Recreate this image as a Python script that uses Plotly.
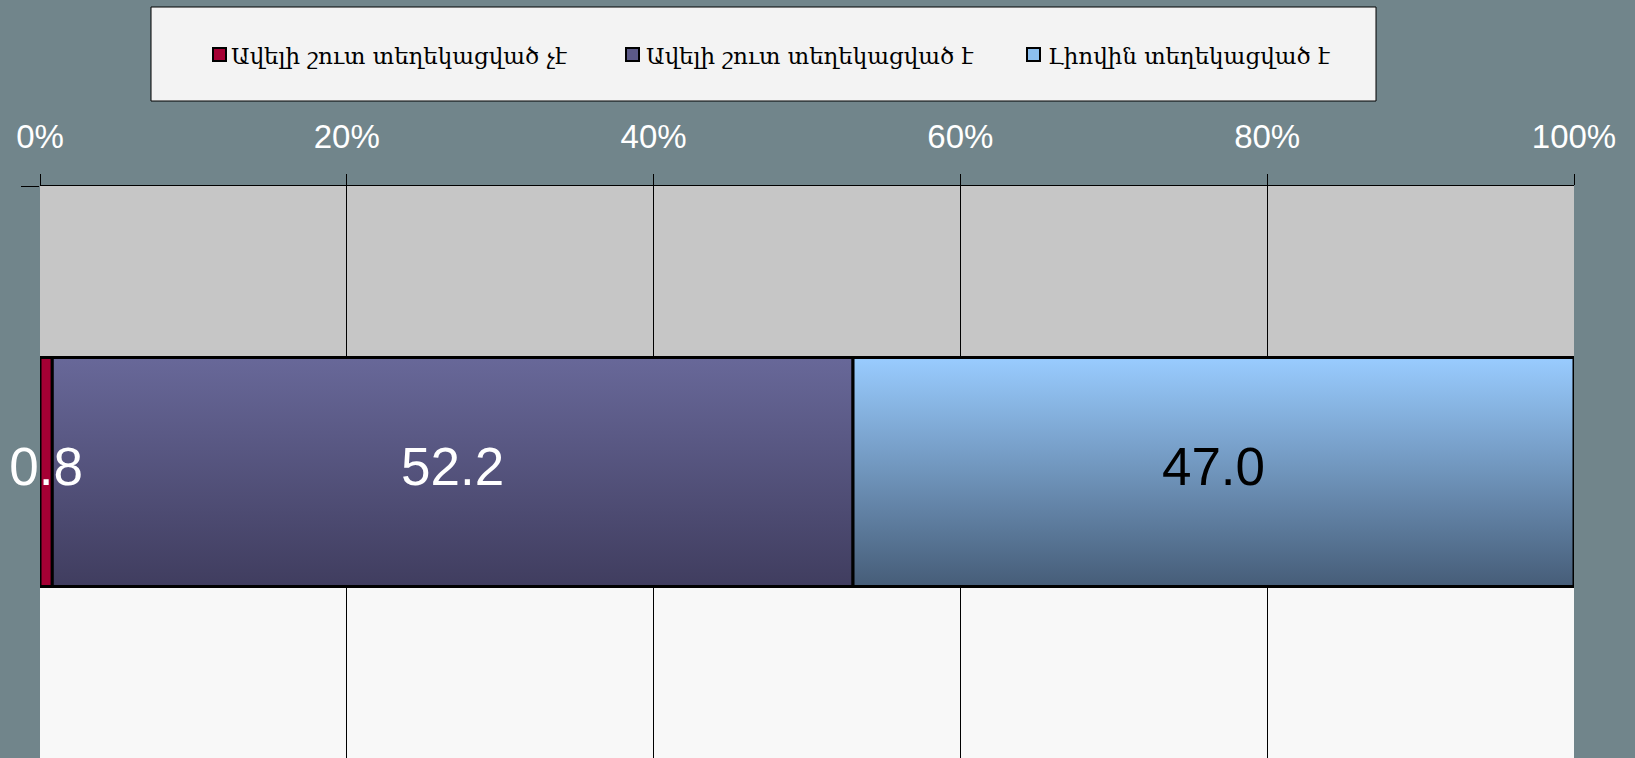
import plotly.graph_objects as go

# ---- data ----
series_names = ["Ավելի շուտ տեղեկացված չէ", "Ավելի շուտ տեղեկացված է", "Լիովին տեղեկացված է"]
series_values = [0.8, 52.2, 47.0]
category = [0]
tick_values = [0, 20, 40, 60, 80, 100]
tick_labels = ["0%", "20%", "40%", "60%", "80%", "100%"]

solid_colors = ["#a50034", "#5e5c8c", "#7fa9d6"]
grad_bottom = ["#a50034", "#403d5f", "#465d78"]
grad_top = ["#a50034", "#686899", "#99ccff"]
label_colors = ["white", "white", "black"]
legend_icon_colors = ["#a50034", "#5c5a88", "#8cbfef"]

W, H = 1635, 758
L, R, T, B = 40, 61, 186, 0
PW, PH = W - L - R, H - T - B
BAR_W = 0.4


def px_x(px):
    return (px - L) / PW


def px_y(py):
    return (H - B - py) / PH


fig = go.Figure()

# base stacked bars (geometry from the library)
for name, v, c in zip(series_names, series_values, solid_colors):
    fig.add_trace(go.Bar(
        y=category, x=[v], name=name, orientation="h", width=BAR_W,
        marker=dict(color=c, line=dict(color="black", width=3)),
        showlegend=False, hoverinfo="x+name",
    ))

# gradient overlays computed from cumulative data
bases = []
acc = 0
for v in series_values:
    bases.append(acc)
    acc += v
half = BAR_W / 2
for i, (b, v) in enumerate(zip(bases, series_values)):
    x0, x1 = b, b + v
    fig.add_trace(go.Scatter(
        x=[x0, x1, x1, x0, x0], y=[-half, -half, half, half, -half],
        mode="lines", fill="toself",
        fillgradient=dict(type="vertical",
                          colorscale=[[0, grad_bottom[i]], [1, grad_top[i]]]),
        line=dict(color="black", width=3),
        showlegend=False, hoverinfo="skip",
    ))

# value labels
mids = [b + v / 2 for b, v in zip(bases, series_values)]
fig.add_trace(go.Scatter(
    x=mids, y=[0] * len(mids), mode="text",
    text=[f"{v:.1f}" for v in series_values],
    textposition="middle center", cliponaxis=False,
    textfont=dict(family="Liberation Sans, Arial", size=53, color=label_colors),
    showlegend=False, hoverinfo="skip",
))

shapes = [
    # plot background: grey upper half, white lower half
    dict(type="rect", xref="paper", yref="paper", x0=0, x1=1, y0=0.5, y1=1,
         fillcolor="#c6c6c6", line=dict(width=0), layer="below"),
    dict(type="rect", xref="paper", yref="paper", x0=0, x1=1, y0=0, y1=0.5,
         fillcolor="#f8f8f8", line=dict(width=0), layer="below"),
    # legend box
    dict(type="rect", xref="paper", yref="paper",
         x0=px_x(151), x1=px_x(1376), y0=px_y(101), y1=px_y(7),
         fillcolor="#f3f3f3", line=dict(color="black", width=1), layer="above"),
]

annotations = []
icon_x = [213, 626, 1027]
text_x = [229, 644, 1046]
for name, ix, tx, c in zip(series_names, icon_x, text_x, legend_icon_colors):
    shapes.append(dict(type="rect", xref="paper", yref="paper",
                       x0=px_x(ix), x1=px_x(ix + 13), y0=px_y(61), y1=px_y(48),
                       fillcolor=c, line=dict(color="black", width=2), layer="above"))
    annotations.append(dict(xref="paper", yref="paper", x=px_x(tx), y=px_y(56),
                            xanchor="left", yanchor="middle", showarrow=False,
                            text=name,
                            font=dict(family="DejaVu Serif", size=23, color="black")))

fig.update_layout(
    width=W, height=H,
    margin=dict(l=L, r=R, t=T, b=B),
    paper_bgcolor="#71858b",
    plot_bgcolor="#c6c6c6",
    barmode="stack",
    shapes=shapes,
    annotations=annotations,
    xaxis=dict(
        range=[0, 100], side="top", tickvals=tick_values, ticktext=tick_labels,
        tickfont=dict(family="Liberation Sans, Arial", size=33, color="white"),
        ticks="outside", ticklen=11, tickcolor="black", tickwidth=1,
        showgrid=True, gridcolor="black", gridwidth=1,
        showline=True, linecolor="black", linewidth=1,
        zeroline=False, fixedrange=True, ticklabelstandoff=13,
    ),
    yaxis=dict(
        range=[-0.5, 0.5], tickvals=[0.5, -0.5], showticklabels=False,
        ticks="outside", ticklen=18, tickcolor="black", tickwidth=1,
        showgrid=False, zeroline=False, showline=False, fixedrange=True,
    ),
)

fig.write_html("out.html", config={"displayModeBar": False},
               post_script="document.body.style.margin='0';document.body.style.overflow='hidden';")
